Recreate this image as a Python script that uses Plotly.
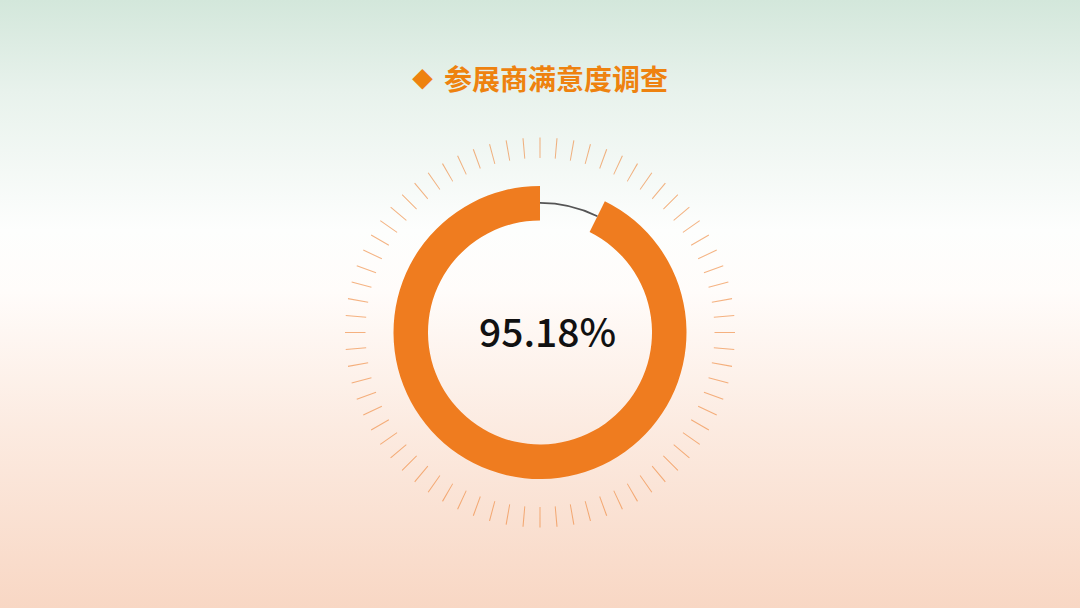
import plotly.graph_objects as go

# chart values
title_text = "参展商满意度调查"
satisfaction_label = "95.18%"
arc_names = ["满意", "其他"]
arc_values = [92.7, 7.3]          # share of the ring (%)
tick_angles = list(range(0, 360, 5))

orange = "#ef7c1f"
W, H = 1080, 608
cx, cy, R = 540, 332.5, 200       # ring centre and polar radius in px

fig = go.Figure()

# background gradient (mint at top, white in the middle, peach at the bottom)
fig.add_trace(go.Scatter(
    x=[0, 1, 1, 0, 0], y=[0, 0, 1, 1, 0],
    mode="lines", line=dict(width=0), fill="toself",
    fillgradient=dict(type="vertical", start=0, stop=1,
                      colorscale=[[0, "#f8d7c4"], [0.3, "#fcebe1"],
                                  [0.52, "#fffcfa"], [0.62, "#fdfefd"],
                                  [0.85, "#e8f2ec"], [1, "#d3e7db"]]),
    hoverinfo="skip", showlegend=False, xaxis="x", yaxis="y",
))

# orange ring + thin grey remainder
span_sat = 360 * arc_values[0] / 100
span_rest = 360 * arc_values[1] / 100
fig.add_trace(go.Barpolar(
    theta=[span_rest + span_sat / 2], width=[span_sat],
    base=[112], r=[34.5], marker=dict(color=orange, line=dict(width=0)),
    name=arc_names[0], hoverinfo="skip", showlegend=False,
))
fig.add_trace(go.Barpolar(
    theta=[span_rest / 2], width=[span_rest],
    base=[128.8], r=[1.6], marker=dict(color="#555555", line=dict(width=0)),
    name=arc_names[1], hoverinfo="skip", showlegend=False,
))

# decorative ticks around the ring
fig.add_trace(go.Barpolar(
    theta=tick_angles, width=[0.32] * len(tick_angles),
    base=[174.5] * len(tick_angles), r=[20.5] * len(tick_angles),
    marker=dict(color="rgba(239,130,50,0.6)", line=dict(width=0)),
    hoverinfo="skip", showlegend=False,
))

fig.update_layout(
    width=W, height=H,
    margin=dict(l=0, r=0, t=0, b=0),
    paper_bgcolor="white", plot_bgcolor="rgba(0,0,0,0)",
    xaxis=dict(domain=[0, 1], range=[0, 1], visible=False, fixedrange=True),
    yaxis=dict(domain=[0, 1], range=[0, 1], visible=False, fixedrange=True),
    polar=dict(
        domain=dict(x=[(cx - R) / W, (cx + R) / W],
                    y=[(H - cy - R) / H, (H - cy + R) / H]),
        bgcolor="rgba(0,0,0,0)",
        bargap=0,
        angularaxis=dict(rotation=90, direction="clockwise", visible=False),
        radialaxis=dict(range=[0, R], visible=False),
    ),
    annotations=[
        dict(text="◆", x=422 / W, y=1 - 78 / H, xref="paper", yref="paper",
             showarrow=False, xanchor="center", yanchor="middle",
             font=dict(size=21, color="#ee820f", family="Noto Sans CJK SC")),
        dict(text="<b>" + title_text + "</b>", x=556 / W, y=1 - 78 / H,
             xref="paper", yref="paper", showarrow=False,
             xanchor="center", yanchor="middle",
             font=dict(size=28, color="#ee820f", family="Noto Sans CJK SC")),
        dict(text=satisfaction_label, x=547 / W, y=1 - 330 / H,
             xref="paper", yref="paper", showarrow=False,
             xanchor="center", yanchor="middle",
             font=dict(size=39, color="#111111", family="Noto Sans CJK SC",
                       weight=500)),
    ],
)

fig.write_html("out.html", config={"displayModeBar": False},
               post_script="document.body.style.margin='0';")
